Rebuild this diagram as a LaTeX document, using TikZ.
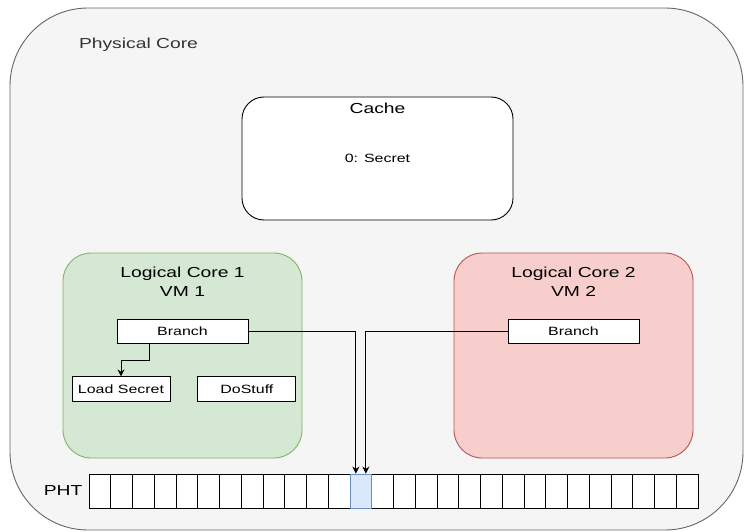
\documentclass[tikz,border=0pt]{standalone}
\usepackage{fontspec}
\setmainfont{Liberation Sans}[FakeStretch=1.33]
\usepackage{tikz}
\usetikzlibrary{positioning,arrows.meta}

\definecolor{corefill}{HTML}{F5F5F5}
\definecolor{coreline}{HTML}{666666}
\definecolor{textgray}{HTML}{333333}
\definecolor{greenfill}{HTML}{D5E8D4}
\definecolor{greenline}{HTML}{82B366}
\definecolor{redfill}{HTML}{F8CECC}
\definecolor{redline}{HTML}{B85450}
\definecolor{bluefill}{HTML}{DAE8FC}
\definecolor{blueline}{HTML}{6C8EBF}

\newcommand{\txtbig}{\fontsize{14.5}{19}\selectfont}
\newcommand{\txtsmall}{\fontsize{12}{14}\selectfont}

\begin{document}
\begin{tikzpicture}[x=1pt, y=-1pt,
    phys/.style={draw=coreline, fill=corefill, line width=0.9pt, rounded corners=78pt, minimum width=733pt, minimum height=522pt},
    cachebox/.style={draw, fill=white, line width=0.9pt, rounded corners=22pt, minimum width=271pt, minimum height=123pt, font=\txtsmall},
    vmbox/.style={line width=0.9pt, rounded corners=28pt, minimum width=239pt, minimum height=205pt},
    instr/.style={draw, fill=white, line width=0.9pt, minimum height=24pt, inner sep=0pt, font=\txtsmall},
    cell/.style={draw, fill=white, line width=0.9pt, minimum width=21.75pt, minimum height=34pt, inner sep=0pt},
    titolo/.style={font=\txtbig, inner sep=0pt, align=center},
    freccia/.style={-{Stealth[length=7pt,width=7pt]}, line width=0.9pt}]

    \useasboundingbox (0,0) rectangle (744,532);

    % core fisico
    \node[phys] (pc) at (376.5,269) {};
    \node[titolo, text=textgray, anchor=base] (pclbl) at (138.5,49) {Physical Core};

    % cache condivisa
    \node[cachebox] (cache) at (377.5,158.5) {0: Secret};
    \node[titolo, anchor=base] (cachelbl) at ([yshift=-17pt]cache.north) {Cache};

    % core logici
    \node[vmbox, draw=greenline, fill=greenfill] (lc1) at (182.5,355.5) {};
    \node[titolo, anchor=north] (lc1lbl) at ([yshift=-14.5pt]lc1.north) {Logical Core 1\\VM 1};
    \node[instr, minimum width=131pt, below=66pt of lc1.north] (br1) {Branch};
    \node[instr, minimum width=98pt, minimum height=25pt, below=33pt of br1, xshift=-61.5pt] (ld) {Load Secret};
    \node[instr, minimum width=98pt, minimum height=25pt, right=27pt of ld] (ds) {DoStuff};

    \node[vmbox, draw=redline, fill=redfill] (lc2) at (573.5,355.5) {};
    \node[titolo, anchor=north] (lc2lbl) at ([yshift=-14.5pt]lc2.north) {Logical Core 2\\VM 2};
    \node[instr, minimum width=131pt, below=66pt of lc2.north] (br2) {Branch};

    % tabella PHT
    \foreach \i in {0,...,11,13,14,...,27}
        \node[cell] (c\i) at ({99.875+21.75*\i},491) {};
    \node[cell, fill=bluefill, draw=blueline] (c12) at ({99.875+21.75*12},491) {};
    \node[titolo, left=6pt of c0] (pht) {PHT};

    \draw[freccia] ([xshift=-33.5pt]br1.south) -- ++(0,17) -| (ld.north);
    \draw[freccia] (br1.east) -| ([xshift=-5pt]c12.north);
    \draw[freccia] (br2.west) -| ([xshift=5pt]c12.north);

\end{tikzpicture}
\end{document}
